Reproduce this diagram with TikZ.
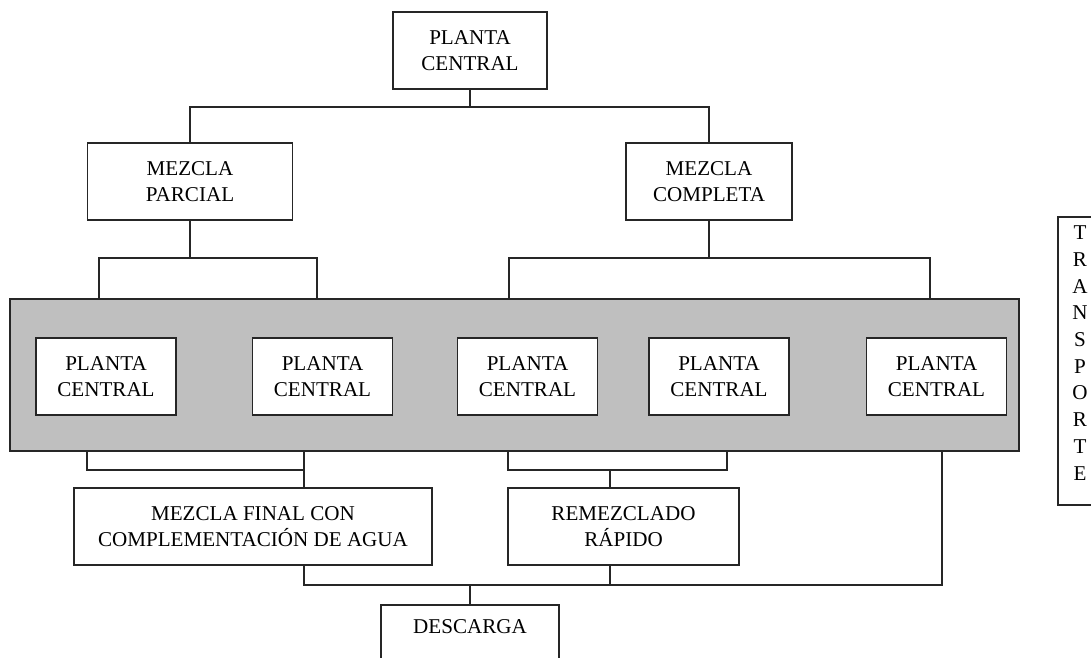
\documentclass[tikz,border=0pt]{standalone}
\usepackage{fontspec}
\setmainfont{Liberation Serif}
\usepackage{tikz}
\usetikzlibrary{positioning}

\begin{document}
\begin{tikzpicture}[
    x=0.02cm, y=-0.02cm,
    line width=0.9pt,
    font=\fontsize{12}{14.6}\selectfont,
    box/.style={draw=black!85, fill=white, align=center, inner sep=0pt, minimum height=1.54cm},
    planta/.style={box, minimum width=2.8cm},
    grupo/.style={draw=black!85, fill=gray!50, inner sep=0pt},
    link/.style={draw=black!85}
]
    \useasboundingbox (0,0) rectangle (1091,657);

    % nivel superior
    \node[box, minimum width=3.08cm] (top) at (470,50.5) {PLANTA\\CENTRAL};
    \node[box, minimum width=4.1cm] (parcial) at (190,181.5) {MEZCLA\\PARCIAL};
    \node[box, minimum width=3.32cm] (completa) at (709,181.5) {MEZCLA\\COMPLETA};
    \coordinate (t) at (470,107);
    \draw[link] (top.south) -- (t);
    \draw[link] (parcial.north) |- (t) -| (completa.north);

    % plantas centrales
    \node[grupo, minimum width=20.18cm, minimum height=3.04cm] (grupo) at (514.5,375) {};
    \foreach \x/\n in {106/1, 322.5/2, 527.5/3, 719/4, 936.5/5}
        \node[planta] (pc\n) at (\x,376.5) {PLANTA\\CENTRAL};

    \coordinate (p) at (190,258);
    \coordinate (pl) at (99,299);
    \coordinate (pr) at (317,299);
    \draw[link] (parcial.south) -- (p);
    \draw[link] (pl) |- (p) -| (pr);

    \coordinate (c) at (709,258);
    \coordinate (cl) at (509,299);
    \coordinate (cr) at (930,299);
    \draw[link] (completa.south) -- (c);
    \draw[link] (cl) |- (c) -| (cr);

    % mezcla final y remezclado
    \node[box, minimum width=7.16cm] (final) at (253,526.5) {MEZCLA FINAL CON\\COMPLEMENTACIÓN DE AGUA};
    \node[box, minimum width=4.62cm] (remez) at (623.5,526.5) {REMEZCLADO\\RÁPIDO};

    \coordinate (fl) at (87,451);
    \coordinate (fr) at (304,451);
    \coordinate (f) at (304,470);
    \draw[link] (fl) |- (f);
    \draw[link] (fr) -- (fr |- final.north);

    \coordinate (rl) at (508,451);
    \coordinate (rr) at (727,451);
    \coordinate (r) at (610,470);
    \draw[link] (rl) |- (r) -| (rr);
    \draw[link] (r) -- (r |- remez.north);

    % descarga
    \node[box, minimum width=3.56cm, text depth=0.7cm] (descarga) at (470,643.5) {DESCARGA};
    \coordinate (d) at (470,585);
    \coordinate (lr) at (942,451);
    \draw[link] (fr |- final.south) |- (d) -| (lr);
    \draw[link] (r |- remez.south) -- (r |- d);
    \draw[link] (d) -- (descarga.north);

    % transporte
    \node[box, minimum width=0.88cm, minimum height=5.76cm, text depth=0.32cm,
          font=\fontsize{12}{15.2}\selectfont] (transporte) at (1080,361)
          {T\\R\\A\\N\\S\\P\\O\\R\\T\\E};
\end{tikzpicture}
\end{document}
